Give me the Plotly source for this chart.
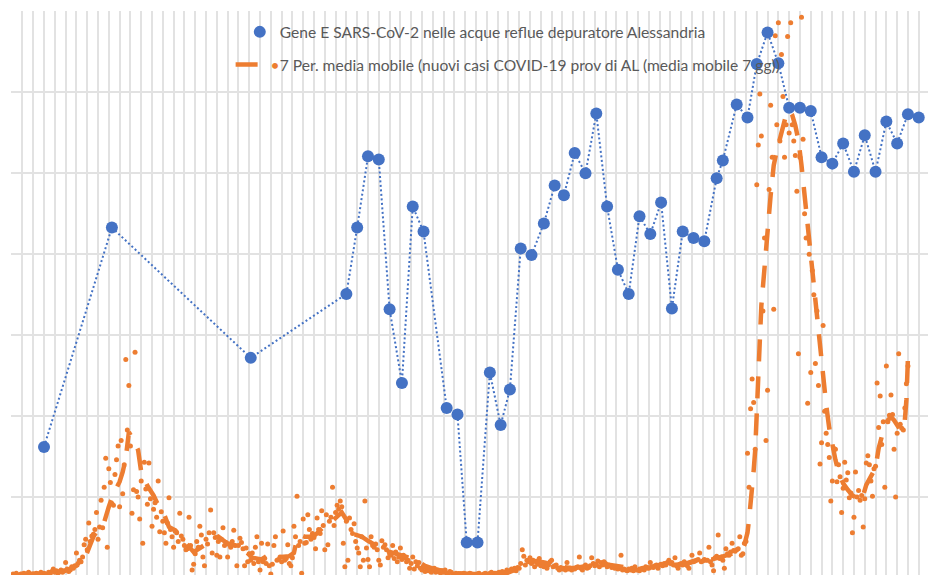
import plotly.graph_objects as go

# ---- daily new COVID-19 cases, prov. of Alessandria (day index 0..581) ----
cases_daily = [
    3, 5, 4, 6, 2, 4, 5,
    4, 6, 3, 5, 7, 4, 3,
    5, 4, 6, 3, 5, 7, 4,
    6, 5, 4, 7, 5, 8, 11,
    7, 9, 6, 8, 10, 7, 9,
    19, 11, 8, 10, 14, 12, 15,
    31, 18, 22, 20, 26, 41, 48,
    35, 68, 45, 52, 54, 60, 81,
    48, 63, 96, 62, 112, 148, 38,
    135, 118, 92, 90, 128, 146, 163,
    88, 170, 104, 140, 270, 183, 238,
    163, 80, 109, 279, 107, 100, 73,
    120, 43, 143, 110, 91, 142, 98,
    64, 85, 93, 75, 120, 57, 82,
    70, 56, 43, 68, 99, 60, 51,
    38, 58, 56, 45, 80, 52, 48,
    40, 35, 36, 75, 40, 10, 17,
    30, 45, 38, 64, 53, 26, 15,
    48, 42, 56, 84, 31, 56, 50,
    28, 45, 26, 48, 62, 40, 44,
    26, 42, 38, 45, 59, 40, 15,
    40, 49, 44, 36, 15, 37, 20,
    30, 22, 31, 18, 38, 51, 20,
    10, 43, 20, 24, 18, 42, 15,
    5, 17, 40, 51, 22, 23, 26,
    20, 58, 22, 24, 41, 18, 15,
    25, 64, 51, 101, 40, 45, 6,
    73, 43, 44, 78, 60, 48, 55,
    50, 36, 74, 60, 55, 83, 65,
    35, 78, 41, 70, 75, 112, 65,
    81, 90, 85, 95, 88, 43, 14,
    70, 22, 74, 60, 55, 67, 45,
    37, 31, 14, 51, 22, 95, 37,
    23, 14, 51, 40, 38, 42, 35,
    22, 16, 46, 38, 41, 35, 25,
    30, 28, 40, 24, 32, 20, 26,
    37, 23, 28, 25, 20, 22, 12,
    18, 26, 11, 20, 15, 19, 12,
    10, 14, 8, 12, 9, 11, 7,
    9, 12, 7, 10, 8, 6, 9,
    7, 10, 6, 5, 8, 7, 5,
    4, 6, 5, 3, 5, 4, 6,
    5, 3, 4, 6, 5, 4, 3,
    4, 5, 6, 4, 3, 5, 6,
    5, 4, 6, 7, 5, 6, 6,
    6, 7, 5, 8, 7, 6, 10,
    8, 9, 11, 10, 12, 9, 13,
    12, 18, 35, 27, 16, 22, 20,
    25, 18, 22, 14, 20, 17, 24,
    15, 19, 14, 18, 12, 16, 20,
    22, 14, 15, 16, 12, 10, 13,
    11, 12, 10, 19, 11, 12, 10,
    12, 11, 13, 14, 26, 12, 10,
    14, 16, 12, 13, 15, 25, 18,
    15, 17, 21, 14, 19, 16, 20,
    18, 14, 16, 15, 13, 14, 12,
    14, 11, 12, 28, 10, 11, 10,
    9, 11, 10, 12, 9, 14, 10,
    10, 9, 11, 12, 10, 14, 13,
    12, 19, 14, 13, 15, 16, 12,
    16, 17, 15, 18, 16, 19, 22,
    18, 19, 16, 25, 15, 12, 17,
    18, 16, 20, 17, 15, 12, 19,
    28, 20, 21, 22, 23, 31, 20,
    21, 23, 22, 22, 38, 20, 16,
    9, 25, 27, 53, 24, 26, 22,
    12, 36, 30, 28, 32, 43, 34,
    33, 35, 36, 51, 28, 30, 43,
    45, 154, 112, 209, 246, 217, 159,
    486, 535, 598, 546, 330, 420, 170,
    232, 480, 584, 520, 332, 670, 560,
    686, 540, 647, 595, 520, 560, 669,
    550, 686, 560, 540, 522, 478, 277,
    520, 693, 542, 450, 420, 216, 400,
    254, 380, 350, 265, 330, 238, 141,
    167, 312, 206, 179, 165, 149, 95,
    120, 160, 159, 119, 140, 125, 81,
    111, 143, 121, 130, 99, 105, 56,
    75, 131, 100, 108, 96, 102, 63,
    98, 142, 151, 140, 120, 101, 135,
    138, 241, 186, 225, 165, 193, 112,
    262, 193, 201, 226, 202, 159, 100,
    179, 277, 190, 185, 183, 210, 240,
    262,
]
case_days = list(range(len(cases_daily)))

# ---- 7-period moving average (trendline) ----
ma_days = [6, 14, 21, 28, 35, 42, 47, 50, 53, 57, 60, 63, 66, 70, 72, 74, 76, 78, 82, 84,
           88, 92, 95, 99, 102, 106, 110, 114, 118, 122, 126, 131, 134, 138, 141, 148, 152,
           156, 162, 166, 170, 174, 180, 183, 184, 185, 187, 190, 193, 196, 199, 204, 207,
           210, 214, 217, 219, 222, 227, 231, 235, 239, 244, 250, 256, 262, 268, 274, 280,
           287, 300, 314, 321, 326, 330, 334, 340, 346, 352, 358, 364, 370, 376, 382, 388,
           394, 400, 406, 412, 418, 424, 430, 436, 442, 448, 454, 460, 466, 472, 475, 477,
           478, 479, 480, 481, 482, 483, 484, 485, 486, 487, 488, 489, 490, 491, 492, 493,
           494, 496, 498, 500, 502, 504, 506, 508, 510, 512, 514, 516, 518, 520, 522, 524,
           526, 528, 530, 532, 534, 536, 539, 542, 545, 548, 551, 554, 557, 560, 562, 564,
           566, 568, 570, 572, 574, 576, 578, 579, 580, 581]
ma_values = [5, 5, 5, 6, 9, 15, 22, 35, 51, 63, 69, 88, 104, 119, 131, 148, 180, 174, 158, 131,
             114, 102, 90, 78, 63, 59, 51, 41, 32, 37, 43, 48, 51, 46, 41, 40, 32,
             25, 23, 28, 27, 26, 27, 31, 40, 50, 53, 51, 51, 52, 57, 67, 69,
             75, 81, 72, 59, 54, 51, 46, 41, 37, 33, 30, 26, 22, 15, 11, 9,
             6, 5, 5, 6, 10, 14, 19, 21, 19, 15, 14, 12, 14, 15, 17, 16,
             14, 12, 11, 12, 15, 16, 17, 17, 21, 22, 23, 26, 30, 33, 41, 56,
             72, 90, 109, 133, 158, 195, 244, 294, 337, 362, 383, 405, 423, 448, 473, 491,
             510, 528, 543, 559, 572, 578, 572, 559, 541, 510, 473, 430, 390, 356, 321, 284,
             247, 214, 185, 164, 146, 131, 117, 109, 102, 99, 96, 115, 127, 136, 160, 177,
             189, 195, 199, 195, 189, 183, 183, 195, 220, 272]

# ---- Gene E SARS-CoV-2 in wastewater, Alessandria plant (secondary axis units) ----
gene_days = [21, 65, 155, 217, 224, 231, 238, 245, 253, 260, 267, 282, 289, 295, 302, 310,
             317, 323, 330, 337, 345, 352, 358, 365, 372, 379, 386, 393, 400, 407, 414, 421,
             428, 435, 442, 449, 457, 461, 470, 477, 483, 490, 497, 504, 511, 518, 525, 532,
             539, 546, 553, 560, 567, 574, 581, 588]
gene_values = [1.62, 4.33, 2.72, 3.51, 4.33, 5.21, 5.17, 3.32, 2.41, 4.59, 4.28, 2.10, 2.02,
               0.44, 0.44, 2.54, 1.89, 2.33, 4.07, 3.99, 4.38, 4.85, 4.73, 5.25, 5.00, 5.74,
               4.59, 3.81, 3.51, 4.47, 4.25, 4.64, 3.33, 4.28, 4.20, 4.16, 4.94, 5.16, 5.85,
               5.69, 6.35, 6.74, 6.36, 5.81, 5.81, 5.77, 5.20, 5.12, 5.37, 5.02, 5.47, 5.02,
               5.64, 5.37, 5.73, 5.69]

name_gene = "Gene E SARS-CoV-2 nelle acque reflue depuratore Alessandria"
name_ma = ('<span style="color:#ED7D31">\u2022</span>7 Per. media mobile '
           '(nuovi casi COVID-19 prov di AL (media mobile 7 gg))')

ORANGE = "#ED7D31"
BLUE = "#4472C4"
GRID = "#e2e2e2"
TEXT = "#595959"
FONT = "Lato, 'Open Sans', sans-serif"

fig = go.Figure()
fig.add_trace(go.Scatter(x=case_days, y=cases_daily, mode="markers",
                         marker=dict(color=ORANGE, size=5, line=dict(width=0)),
                         showlegend=False, hoverinfo="skip"))
fig.add_trace(go.Scatter(x=ma_days, y=ma_values, mode="lines", name=name_ma,
                         line=dict(color=ORANGE, width=4.5, dash="22px,15px"),
                         legend="legend2"))
fig.add_trace(go.Scatter(x=gene_days, y=gene_values, yaxis="y2", mode="lines",
                         line=dict(color=BLUE, width=2, dash="2px,2.5px"),
                         showlegend=False, hoverinfo="skip"))
fig.add_trace(go.Scatter(x=gene_days, y=gene_values, yaxis="y2", mode="markers",
                         name=name_gene, marker=dict(color=BLUE, size=12, line=dict(width=0)),
                         legend="legend"))

fig.update_layout(
    width=928, height=575,
    margin=dict(l=11, r=0, t=11, b=0),
    paper_bgcolor="white", plot_bgcolor="white",
    font=dict(family=FONT, size=15.6, color=TEXT),
    showlegend=True,
    legend=dict(x=0.2495, xanchor="left", y=0.9925, yanchor="top",
                bgcolor="rgba(0,0,0,0)", font=dict(family=FONT, size=15.6, color=TEXT)),
    legend2=dict(x=0.2395, xanchor="left", y=0.9345, yanchor="top",
                 bgcolor="rgba(0,0,0,0)", font=dict(family=FONT, size=15.6, color=TEXT)),
    xaxis=dict(range=[-0.4, 594.0], tick0=0, dtick=7, showgrid=True, gridcolor=GRID,
               gridwidth=2, showticklabels=False, zeroline=False, showline=False,
               ticks=""),
    yaxis=dict(range=[3.7, 700.6], tick0=0, dtick=100, showgrid=True, gridcolor=GRID,
               gridwidth=2, showticklabels=False, zeroline=False, showline=False,
               ticks=""),
    yaxis2=dict(range=[0.037, 7.006], overlaying="y", side="right", showgrid=False,
                showticklabels=False, zeroline=False, showline=False, ticks=""),
)

fig.write_html("out.html", include_plotlyjs=True,
               config={"displayModeBar": False},
               post_script="document.body.style.margin='0';document.body.style.overflow='hidden';")
